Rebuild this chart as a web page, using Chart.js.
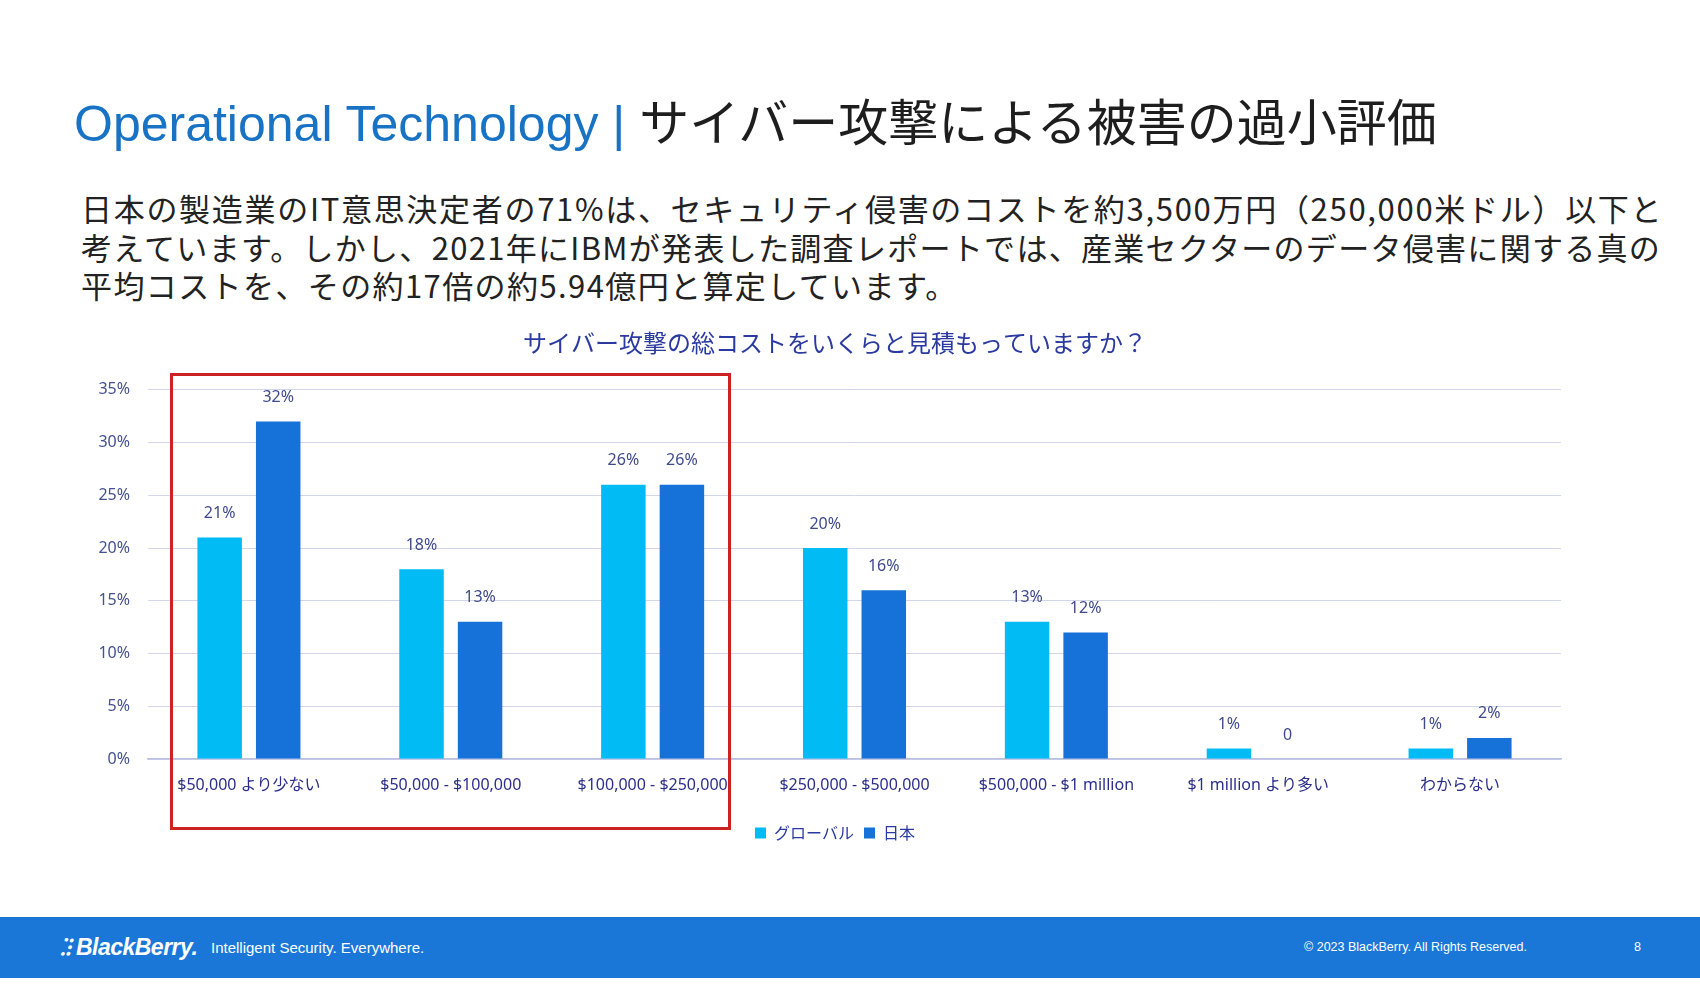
<!DOCTYPE html>
<html>
<head>
<meta charset="utf-8">
<script src="https://cdn.jsdelivr.net/npm/chart.js@4"></script>
<style>
  body { margin:0; width:1700px; height:1000px; background:#fff; position:relative; overflow:hidden;
         font-family:"Noto Sans CJK JP", "Noto Sans", sans-serif; }
  #title { position:absolute; left:74px; top:83px; white-space:nowrap; }
  #title .en { font-family:"Liberation Sans", Arial, sans-serif; font-size:50px; color:#1873c4; }
  #title .jp { font-family:"Noto Sans CJK JP", sans-serif; font-size:50px; color:#1e1e1e; }
  #lead { position:absolute; left:81px; top:189px; font-size:31px; line-height:38.5px; color:#222; white-space:nowrap; }
  #box { position:absolute; left:170px; top:373px; width:555px; height:451px; border:3px solid #cc2222; }
  #chartWrap { position:absolute; left:60px; top:325px; width:1540px; height:530px; }
  #footer { position:absolute; left:0; top:917px; width:1700px; height:61px; background:#1a77d8; color:#fff; }
  #footer .logo { position:absolute; left:60px; top:13px; font-family:"Liberation Sans", sans-serif; font-weight:bold; font-style:italic; font-size:23px; letter-spacing:-0.5px; }
  #footer .tag { position:absolute; left:211px; top:22px; font-family:"Liberation Sans", sans-serif; font-size:15px; }
  #footer .copy { position:absolute; left:1304px; top:23px; font-family:"Liberation Sans", sans-serif; font-size:12.5px; }
  #footer .page { position:absolute; left:1634px; top:23px; font-family:"Liberation Sans", sans-serif; font-size:12.5px; }
</style>
</head>
<body>

<div id="title"><span class="en">Operational Technology | </span><span class="jp">サイバー攻撃による被害の過小評価</span></div>

<div id="lead"><span style="letter-spacing:1.7px">日本の製造業のIT意思決定者の71%は、セキュリティ侵害のコストを約3,500万円（250,000米ドル）以下と</span><br><span style="letter-spacing:1.3px">考えています。しかし、2021年にIBMが発表した調査レポートでは、産業セクターのデータ侵害に関する真の</span><br><span style="letter-spacing:1.4px">平均コストを、その約17倍の約5.94億円と算定しています。</span></div>

<div id="chartWrap"><canvas id="costChart"></canvas></div>

<div id="box"></div>

<div id="footer">
  <div class="logo">⁚⁝ BlackBerry.</div>
  <div class="tag">Intelligent Security. Everywhere.</div>
  <div class="copy">© 2023 BlackBerry. All Rights Reserved.</div>
  <div class="page">8</div>
</div>

<script>
// ===============================
// DATA
// ===============================

const costRanges = [
    "$50,000 より少ない",
    "$50,000 - $100,000",
    "$100,000 - $250,000",
    "$250,000 - $500,000",
    "$500,000 - $1 million",
    "$1 million より多い",
    "わからない"
];

const globalValues = [21, 18, 26, 20, 13, 1, 1];
const japanValues = [32, 13, 26, 16, 12, 0, 2];

const yTicks = [0, 5, 10, 15, 20, 25, 30, 35];

// ===============================
// value labels above bars
// ===============================

const valueLabels = {
    id: "valueLabels",
    afterDatasetsDraw(chart) {
        const ctx = chart.ctx;
        ctx.save();
        ctx.font = "16px 'Noto Sans', 'Noto Sans CJK JP', sans-serif";
        ctx.fillStyle = "#3f4a8c";
        ctx.textAlign = "center";
        ctx.textBaseline = "middle";
        chart.data.datasets.forEach((ds, i) => {
            chart.getDatasetMeta(i).data.forEach((bar, j) => {
                const v = ds.data[j];
                ctx.fillText(v === 0 ? "0" : v + "%", bar.x, bar.y - 24);
            });
        });
        ctx.restore();
    }
};

// ===============================
// COST ESTIMATE BAR CHART
// ===============================

const costCtx = document.getElementById("costChart");

new Chart(costCtx, {

    type: "bar",

    data: {
        labels: costRanges,
        datasets: [
            {
                label: "グローバル",
                data: globalValues,
                backgroundColor: "#00bbf4",
                categoryPercentage: 0.58,
                barPercentage: 0.76
            },
            {
                label: "日本",
                data: japanValues,
                backgroundColor: "#1672d9",
                categoryPercentage: 0.58,
                barPercentage: 0.76
            }
        ]
    },

    options: {
        responsive: true,
        maintainAspectRatio: false,
        animation: false,
        layout: {
            padding: { left: 32, right: 22, bottom: 4 }
        },
        plugins: {
            title: {
                display: true,
                text: "サイバー攻撃の総コストをいくらと見積もっていますか？",
                color: "#2b3aa0",
                font: { size: 24, family: "'Noto Sans CJK JP', sans-serif", weight: "normal" },
                padding: { top: 3, bottom: 33 }
            },
            legend: {
                position: "bottom",
                labels: {
                    boxWidth: 11,
                    boxHeight: 11,
                    color: "#2b3aa0",
                    font: { size: 16, family: "'Noto Sans CJK JP', sans-serif" },
                    padding: 10
                }
            },
            tooltip: { enabled: false }
        },
        scales: {
            x: {
                grid: { display: false, drawTicks: false },
                border: { color: "#b8c0e4", width: 1.5 },
                ticks: {
                    color: "#2b2f8a",
                    font: { size: 16, family: "'Noto Sans', 'Noto Sans CJK JP', sans-serif" },
                    padding: 17,
                    maxRotation: 0,
                    autoSkip: false
                },
                afterFit(scale) { scale.height = 56; }
            },
            y: {
                min: 0,
                max: 35,
                afterBuildTicks(scale) { scale.ticks = yTicks.map(v => ({ value: v })); },
                grid: { color: "#d2d6ea", drawTicks: false },
                border: { display: false },
                ticks: {
                    color: "#44508f",
                    font: { size: 16, family: "'Noto Sans', sans-serif" },
                    padding: 18,
                    callback: v => v + "%"
                },
                afterFit(scale) { scale.width = 56; }
            },
            // empty right-hand spacer so the title and legend centre like the original
            yRight: {
                position: "right",
                grid: { display: false, drawTicks: false },
                border: { display: false },
                ticks: { display: false },
                afterFit(scale) { scale.width = 17; }
            }
        }
    },

    plugins: [valueLabels]

});
</script>
</body>
</html>
